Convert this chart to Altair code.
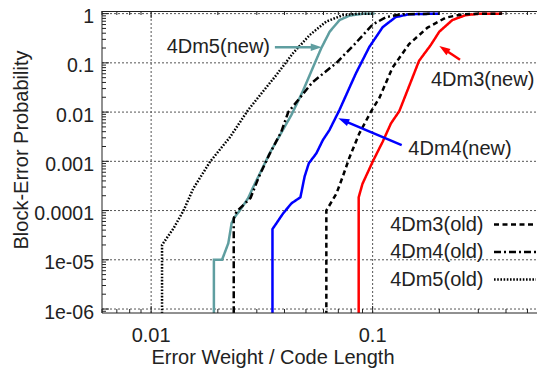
import math
import altair as alt
import pandas as pd

# ---------------- data ----------------
series = ["4Dm3(new)", "4Dm4(new)", "4Dm5(new)", "4Dm3(old)", "4Dm4(old)", "4Dm5(old)"]
colors = ["#ff0000", "#0000ff", "#5f9ea0", "#000000", "#000000", "#000000"]

m3_new_x = [0.0865, 0.0865, 0.090, 0.100, 0.111, 0.121, 0.132, 0.151, 0.162, 0.183, 0.2, 0.229, 0.263, 0.30, 0.384]
m3_new_y = [1e-7, 1.86e-4, 3.5e-4, 9.8e-4, 2.5e-3, 5.9e-3, 0.0105, 0.049, 0.11, 0.23, 0.43, 0.74, 0.93, 0.99, 1.0]

m4_new_x = [0.0353, 0.0353, 0.0394, 0.043, 0.0472, 0.0493, 0.0515, 0.0557, 0.0596, 0.0638, 0.0708, 0.084, 0.0966, 0.111, 0.127, 0.146, 0.2]
m4_new_y = [1e-7, 4.2e-5, 8.7e-5, 1.4e-4, 1.86e-4, 4.9e-4, 9.1e-4, 1.45e-3, 2.7e-3, 4.3e-3, 0.011, 0.061, 0.21, 0.53, 0.85, 0.97, 1.0]

m5_new_x = [0.0192, 0.0192, 0.0209, 0.0223, 0.0231, 0.0239, 0.0252, 0.0274, 0.0289, 0.031, 0.0344, 0.043, 0.0483, 0.0536, 0.0586, 0.064, 0.0709, 0.0786, 0.090, 0.102]
m5_new_y = [1e-7, 1e-5, 1e-5, 2.16e-5, 5.6e-5, 7.5e-5, 1.02e-4, 1.78e-4, 3.0e-4, 5.7e-4, 1.5e-3, 8.8e-3, 0.026, 0.078, 0.198, 0.43, 0.74, 0.91, 0.99, 1.0]

m3_old_x = [0.0618, 0.0618, 0.0686, 0.0733, 0.0786, 0.0871, 0.098, 0.107, 0.123, 0.146, 0.177, 0.214, 0.254, 0.30, 0.384]
m3_old_y = [1e-7, 1.0e-4, 2.2e-4, 4.9e-4, 1.2e-3, 3.7e-3, 0.01, 0.019, 0.08, 0.24, 0.52, 0.83, 0.97, 0.995, 1.0]

m4_old_x = [0.0236, 0.0236, 0.0243, 0.0281, 0.0307, 0.0341, 0.0387, 0.0416, 0.048, 0.0534, 0.0686, 0.083, 0.1, 0.115, 0.135, 0.2]
m4_old_y = [1e-7, 7e-5, 9.5e-5, 1.8e-4, 4.9e-4, 1.35e-3, 4e-3, 0.01, 0.022, 0.04, 0.1, 0.24, 0.6, 0.85, 0.97, 1.0]

m5_old_x = [0.0112, 0.0112, 0.01264, 0.0140, 0.0155, 0.01845, 0.0227, 0.0274, 0.031, 0.0368, 0.0437, 0.052, 0.0618, 0.0733, 0.085, 0.1]
m5_old_y = [1e-7, 2e-5, 4.4e-5, 1.0e-4, 2.8e-4, 9.8e-4, 3.1e-3, 0.011, 0.022, 0.057, 0.157, 0.368, 0.69, 0.93, 0.99, 1.0]

x_tick_values = [0.01, 0.1]
x_tick_labels = ["0.01", "0.1"]
y_tick_values = [1e-6, 1e-5, 1e-4, 1e-3, 1e-2, 1e-1, 1]
y_tick_labels = ["1e-06", "1e-05", "0.0001", "0.001", "0.01", "0.1", "1"]

x_title = "Error Weight / Code Length"
y_title = "Block-Error Probability"
legend_series = ["4Dm3(old)", "4Dm4(old)", "4Dm5(old)"]

# ---------------- layout / style ----------------
W, H = 435, 302
DEC_X = 221.5                      # pixels per decade on x
XDOM = [0.006, 0.006 * 10 ** (W / DEC_X)]
YDOM = [8.3e-7, 1.13]
PXX = DEC_X
PXY = H / (math.log10(YDOM[1]) - math.log10(YDOM[0]))
FONT = "Liberation Sans"
TXT = "#222222"
FRAME = "#222222"
GRID = "#555555"
dashes = [[1, 0], [1, 0], [1, 0], [5, 3.5], [7, 3, 2, 3], [1.6, 1.6]]

xs = alt.Scale(type="log", domain=XDOM, nice=False)
ys = alt.Scale(type="log", domain=YDOM, nice=False)

rows = []
for name, xv, yv in [
    ("4Dm3(new)", m3_new_x, m3_new_y),
    ("4Dm4(new)", m4_new_x, m4_new_y),
    ("4Dm5(new)", m5_new_x, m5_new_y),
    ("4Dm3(old)", m3_old_x, m3_old_y),
    ("4Dm4(old)", m4_old_x, m4_old_y),
    ("4Dm5(old)", m5_old_x, m5_old_y),
]:
    for i, (a, b) in enumerate(zip(xv, yv)):
        rows.append({"series": name, "x": a, "y": b, "i": i})
df = pd.DataFrame(rows)

layers = []

# ---------------- grid (dotted) ----------------
gx = pd.DataFrame({"v": x_tick_values})
gy = pd.DataFrame({"v": y_tick_values})
layers.append(alt.Chart(gx).mark_rule(color=GRID, strokeWidth=1, strokeDash=[2, 2]).encode(
    x=alt.X("v:Q", scale=xs, axis=None), y=alt.value(0), y2=alt.value(H)))
layers.append(alt.Chart(gy).mark_rule(color=GRID, strokeWidth=1, strokeDash=[2, 2]).encode(
    y=alt.Y("v:Q", scale=ys, axis=None), x=alt.value(0), x2=alt.value(W)))

# ---------------- curves ----------------
layers.append(alt.Chart(df).mark_line(strokeWidth=2.5, clip=True).encode(
    x=alt.X("x:Q", scale=xs, axis=None),
    y=alt.Y("y:Q", scale=ys, axis=None),
    color=alt.Color("series:N", scale=alt.Scale(domain=series, range=colors), legend=None),
    strokeDash=alt.StrokeDash("series:N", scale=alt.Scale(domain=series, range=dashes), legend=None),
    detail="series:N",
    order="i:Q",
))

# ---------------- frame (top, left, bottom) ----------------
fr = pd.DataFrame({"k": [0]})
layers.append(alt.Chart(fr).mark_rule(color=FRAME, strokeWidth=1).encode(
    x=alt.value(0), x2=alt.value(W), y=alt.value(0.5)))
layers.append(alt.Chart(fr).mark_rule(color=FRAME, strokeWidth=1).encode(
    x=alt.value(0), x2=alt.value(W), y=alt.value(H)))
layers.append(alt.Chart(fr).mark_rule(color=FRAME, strokeWidth=1).encode(
    x=alt.value(0), y=alt.value(0), y2=alt.value(H)))

# ---------------- inward ticks ----------------
x_minor = [k * 10.0 ** e for e in (-3, -2, -1) for k in range(2, 10) if XDOM[0] - 1e-12 <= k * 10.0 ** e <= XDOM[1]]
y_minor = [k * 10.0 ** e for e in range(-7, 0) for k in range(2, 10) if YDOM[0] <= k * 10.0 ** e <= YDOM[1]]
for vals, ln in [(x_tick_values, 7), (x_minor, 4)]:
    d = pd.DataFrame({"v": vals})
    for y0, y1 in [(H - ln, H), (0, ln)]:
        layers.append(alt.Chart(d).mark_rule(color=FRAME, strokeWidth=1).encode(
            x=alt.X("v:Q", scale=xs, axis=None), y=alt.value(y0), y2=alt.value(y1)))
for vals, ln in [(y_tick_values, 7), (y_minor, 4)]:
    d = pd.DataFrame({"v": vals})
    layers.append(alt.Chart(d).mark_rule(color=FRAME, strokeWidth=1).encode(
        y=alt.Y("v:Q", scale=ys, axis=None), x=alt.value(0), x2=alt.value(ln)))

# ---------------- tick labels and axis titles ----------------
layers.append(alt.Chart(pd.DataFrame({"v": x_tick_values, "t": x_tick_labels})).mark_text(
    align="center", baseline="top", fontSize=20, font=FONT, color=TXT, dy=13
).encode(x=alt.X("v:Q", scale=xs, axis=None), y=alt.value(H), text="t:N"))
layers.append(alt.Chart(pd.DataFrame({"v": y_tick_values, "t": y_tick_labels})).mark_text(
    align="right", baseline="middle", fontSize=19.5, font=FONT, color=TXT, dy=3.5
).encode(y=alt.Y("v:Q", scale=ys, axis=None), x=alt.value(-8), text="t:N"))
layers.append(alt.Chart(fr).mark_text(
    text=x_title, align="center", baseline="alphabetic", fontSize=20, font=FONT, color=TXT
).encode(x=alt.value(171), y=alt.value(H + 51)))
layers.append(alt.Chart(fr).mark_text(
    text=y_title, align="center", baseline="alphabetic", fontSize=20, font=FONT, color=TXT, angle=270
).encode(x=alt.value(-74), y=alt.value(139)))

# ---------------- annotations with arrows ----------------
annotations = [
    # label, text anchor (x, y), align, arrow start, arrow tip, colour
    ("4Dm5(new)", (0.0344, 0.207), "right", (0.0362, 0.207), (0.0589, 0.207), "#5f9ea0"),
    ("4Dm3(new)", (0.1834, 0.0455), "left", (0.248, 0.116), (0.2, 0.22), "#ff0000"),
    ("4Dm4(new)", (0.1449, 0.00175), "left", (0.1353, 0.00214), (0.070, 0.00747), "#0000ff"),
]
HEAD = "M0,0L-1,-0.34L-1,0.34Z"
for label, (tx, ty), al, (sx, sy), (ex, ey), col in annotations:
    dxp = (math.log10(ex) - math.log10(sx)) * PXX
    dyp = -(math.log10(ey) - math.log10(sy)) * PXY
    L = math.hypot(dxp, dyp)
    f = (L - 9) / L
    rx = 10 ** (math.log10(sx) + f * (math.log10(ex) - math.log10(sx)))
    ry = 10 ** (math.log10(sy) + f * (math.log10(ey) - math.log10(sy)))
    ang = math.degrees(math.atan2(dyp, dxp)) % 360

    tdf = pd.DataFrame({"ax": [tx], "ay": [ty]})
    layers.append(alt.Chart(tdf).mark_text(
        text=label, align=al, baseline="middle", fontSize=20, font=FONT, color=TXT
    ).encode(x=alt.X("ax:Q", scale=xs, axis=None), y=alt.Y("ay:Q", scale=ys, axis=None)))

    rdf = pd.DataFrame({"ax": [sx], "ay": [sy], "bx": [rx], "by": [ry]})
    layers.append(alt.Chart(rdf).mark_rule(color=col, strokeWidth=2.5).encode(
        x=alt.X("ax:Q", scale=xs, axis=None), y=alt.Y("ay:Q", scale=ys, axis=None),
        x2="bx:Q", y2="by:Q"))

    hdf = pd.DataFrame({"ax": [ex], "ay": [ey]})
    layers.append(alt.Chart(hdf).mark_point(
        shape=HEAD, size=480, filled=True, color=col, opacity=1, angle=ang, strokeWidth=0
    ).encode(x=alt.X("ax:Q", scale=xs, axis=None), y=alt.Y("ay:Q", scale=ys, axis=None)))

# ---------------- legend (text left of sample, as in gnuplot) ----------------
for i, name in enumerate(legend_series):
    yy = 213.5 + 27.5 * i
    layers.append(alt.Chart(fr).mark_text(
        text=name, align="right", baseline="middle", fontSize=20, font=FONT, color=TXT
    ).encode(x=alt.value(381.5), y=alt.value(yy)))
    layers.append(alt.Chart(fr).mark_rule(
        color=colors[series.index(name)], strokeWidth=2.5, strokeDash=dashes[series.index(name)]
    ).encode(x=alt.value(392), x2=alt.value(434), y=alt.value(yy)))

chart = alt.layer(*layers).properties(
    width=W, height=H,
    autosize=alt.AutoSizeParams(type="none"),
    padding={"left": 94, "top": 3, "right": 0, "bottom": 57},
).configure_view(stroke=None)

chart.save("out.html", embed_options={"renderer": "svg", "actions": False})
